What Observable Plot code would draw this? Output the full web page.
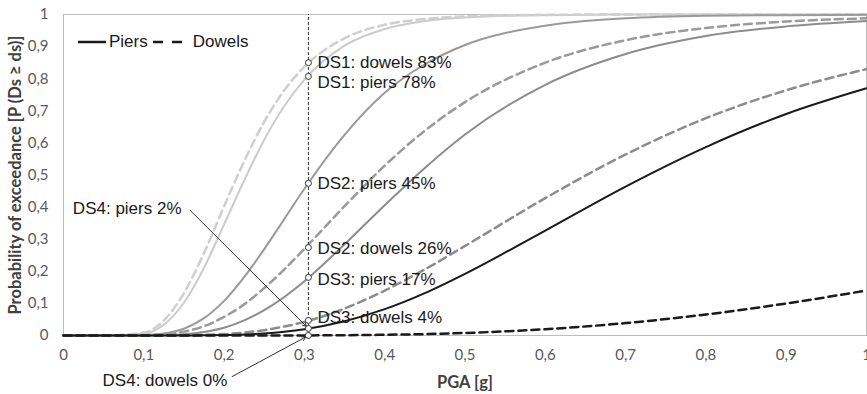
<!DOCTYPE html>
<html><head><meta charset="utf-8">
<script src="https://cdn.jsdelivr.net/npm/d3@7"></script>
<script src="https://cdn.jsdelivr.net/npm/@observablehq/plot@0.6"></script>
<style>
body{margin:0;background:#fff;}
#wrap{position:relative;width:867px;height:394px;overflow:hidden;}
#legend{position:absolute;left:78px;top:32px;height:20px;font:17px "Liberation Sans",Arial,sans-serif;color:#1a1a1a;display:flex;align-items:center;}
#legend svg{display:block;}
</style></head><body><div id="wrap"><div id="legend">
<svg width="31" height="10"><line x1="0" y1="5" x2="28" y2="5" stroke="#1a1a1a" stroke-width="2.5"/></svg><span>Piers</span>
<svg width="40" height="10" style="margin-left:5px"><line x1="0" y1="5" x2="29" y2="5" stroke="#1a1a1a" stroke-width="2.5" stroke-dasharray="10,9"/></svg><span>Dowels</span>
</div></div>
<script>
// PGA [g] sample points
const xs = [0, 0.05, 0.1, 0.125, 0.15, 0.175, 0.2, 0.225, 0.25, 0.275, 0.3, 0.35, 0.4, 0.45, 0.5, 0.6, 0.7, 0.8, 0.9, 1];
// Probability of exceedance per damage state
const ds1Piers  = [0, 0, 0.006, 0.034, 0.102, 0.211, 0.346, 0.483, 0.61, 0.715, 0.797, 0.903, 0.955, 0.98, 0.991, 0.998, 1, 1, 1, 1];
const ds1Dowels = [0, 0, 0.009, 0.047, 0.132, 0.257, 0.403, 0.543, 0.666, 0.764, 0.837, 0.926, 0.968, 0.986, 0.994, 0.999, 1, 1, 1, 1];
const ds2Piers  = [0, 0, 0.001, 0.006, 0.021, 0.054, 0.108, 0.182, 0.269, 0.363, 0.457, 0.625, 0.756, 0.845, 0.905, 0.965, 0.988, 0.996, 0.998, 0.999];
const ds2Dowels = [0, 0, 0.001, 0.0035, 0.012, 0.029, 0.058, 0.097, 0.148, 0.206, 0.27, 0.403, 0.529, 0.638, 0.727, 0.85, 0.92, 0.958, 0.978, 0.988];
const ds3Piers  = [0, 0, 0, 0.001, 0.004, 0.011, 0.024, 0.047, 0.079, 0.12, 0.169, 0.284, 0.406, 0.522, 0.626, 0.781, 0.877, 0.933, 0.963, 0.98];
const ds3Dowels = [0, 0, 0, 0, 0.0006, 0.0018, 0.0044, 0.009, 0.0167, 0.028, 0.0425, 0.084, 0.14, 0.206, 0.279, 0.428, 0.564, 0.677, 0.764, 0.83];
const ds4Piers  = [0, 0, 0, 0, 0.0001, 0.0004, 0.0013, 0.003, 0.0065, 0.012, 0.0197, 0.0445, 0.082, 0.132, 0.192, 0.327, 0.464, 0.587, 0.69, 0.77];
const ds4Dowels = [0, 0, 0, 0, 0, 0, 0, 0, 0, 0.0001, 0.0003, 0.001, 0.0023, 0.0044, 0.0079, 0.0196, 0.0386, 0.0655, 0.0998, 0.14];

// Reference PGA and read-out values
const markerX = 0.305;
const markerVals = [0.85, 0.807, 0.474, 0.274, 0.181, 0.047, 0.022, 0];
const annLabels = ["DS1: dowels 83%", "DS1: piers 78%", "DS2: piers 45%", "DS2: dowels 26%", "DS3: piers 17%", "DS3: dowels 4%"];
const annLabelY = [0.85, 0.789, 0.474, 0.271, 0.175, 0.056];
const callLabels = ["DS4: piers 2%", "DS4: dowels 0%"];
const callTextX = [0.147, 0.204];
const callTextY = [0.395, -0.14];
const callFromX = [0.158, 0.21];
const callFromY = [0.389, -0.128];
const callToY = [0.022, 0];

const xTicks = [0, 0.1, 0.2, 0.3, 0.4, 0.5, 0.6, 0.7, 0.8, 0.9, 1];
const yTicks = [0, 0.1, 0.2, 0.3, 0.4, 0.5, 0.6, 0.7, 0.8, 0.9, 1];
const xTitle = "PGA [g]";
const yTitle = "Probability of exceedance [P (Ds ≥ ds)]";

const fmt = d => String(+d.toFixed(1)).replace(".", ",");

const seriesDefs = [
  {y: ds1Piers,  color: "#cbcbcb", dash: null},
  {y: ds1Dowels, color: "#cfcfcf", dash: "8,5"},
  {y: ds2Piers,  color: "#9a9a9a", dash: null},
  {y: ds2Dowels, color: "#9a9a9a", dash: "8,5"},
  {y: ds3Piers,  color: "#8c8c8c", dash: null},
  {y: ds3Dowels, color: "#8c8c8c", dash: "8,5"},
  {y: ds4Piers,  color: "#1a1a1a", dash: null},
  {y: ds4Dowels, color: "#1a1a1a", dash: "8,5"}
];

const lineMarks = seriesDefs.map(s => Plot.line(xs.map((x, i) => ({x, y: s.y[i]})), {
  x: "x", y: "y", stroke: s.color, strokeWidth: s.dash ? 2.5 : 2,
  strokeDasharray: s.dash, curve: "monotone-x"
}));

const calls = callLabels.map((t, i) => ({t, tx: callTextX[i], ty: callTextY[i], fx: callFromX[i], fy: callFromY[i], toY: callToY[i]}));

const chart = Plot.plot({
  width: 867, height: 394,
  marginLeft: 63, marginRight: 1, marginTop: 14, marginBottom: 59,
  style: {fontFamily: "Lato, sans-serif", fontSize: "15px", color: "#595959", background: "transparent", overflow: "visible"},
  x: {domain: [0, 1]},
  y: {domain: [0, 1]},
  marks: [
    Plot.frame({stroke: "#bdbdbd"}),
    Plot.axisX({ticks: xTicks, tickSize: 0, tickPadding: 14, tickFormat: fmt, label: null}),
    Plot.axisY({ticks: yTicks, tickSize: 0, tickPadding: 15, tickFormat: fmt, label: null}),
    Plot.text([xTitle], {frameAnchor: "bottom", dy: 47, lineAnchor: "middle", text: d => d, fontWeight: "bold", fontSize: 16.5, fill: "#404040"}),
    Plot.text([yTitle], {frameAnchor: "left", dx: -48, rotate: -90, textAnchor: "middle", lineAnchor: "middle", text: d => d, fontWeight: "bold", fontSize: 16.5, fill: "#404040"}),
    ...lineMarks,
    Plot.ruleX([markerX], {y1: 0, y2: 1, stroke: "#333", strokeWidth: 1, strokeDasharray: "3,2"}),
    Plot.arrow(calls, {x1: "fx", y1: "fy", x2: () => markerX, y2: "toY", stroke: "#1a1a1a", strokeWidth: 0.9, headLength: 7, insetEnd: 3}),
    Plot.dot(markerVals, {x: () => markerX, y: d => d, r: 3, stroke: "#333", fill: "white", strokeWidth: 1}),
    Plot.text(annLabels, {x: () => markerX, y: (d, i) => annLabelY[i], text: d => d, textAnchor: "start", dx: 9, fontSize: 17, fontFamily: "Liberation Sans, Arial, sans-serif", fill: "#1a1a1a"}),
    Plot.text(calls, {x: "tx", y: "ty", text: "t", textAnchor: "end", fontSize: 17, fontFamily: "Liberation Sans, Arial, sans-serif", fill: "#1a1a1a"})
  ]
});
chart.style.position = "absolute";
chart.style.left = "0";
chart.style.top = "0";
const wrap = document.getElementById("wrap");
wrap.insertBefore(chart, wrap.firstChild);
</script>
</body></html>
